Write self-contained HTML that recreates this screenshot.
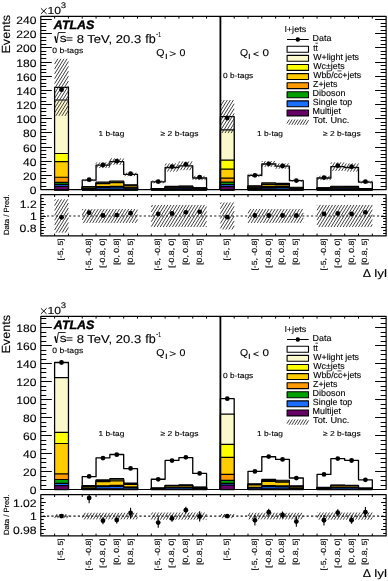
<!DOCTYPE html>
<html><head><meta charset="utf-8"><style>
html,body{margin:0;padding:0;background:#fff;width:388px;height:581px;overflow:hidden}
svg{display:block;will-change:transform;text-rendering:geometricPrecision}
</style></head><body>
<svg width="388" height="581" viewBox="0 0 388 581" font-family="Liberation Sans, sans-serif" stroke-linejoin="round">
<style>text{stroke:#000;stroke-width:0.12px}</style>
<rect width="388" height="581" fill="#fff"/>
<path d="M54.61 189.6L54.61 87.33L68.43 87.33L68.43 189.6Z" fill="#FFFFFF" stroke="#000" stroke-width="1.3"/>
<path d="M54.61 189.6L54.61 100.01L68.43 100.01L68.43 189.6Z" fill="#FBF8CC" stroke="#000" stroke-width="1.2"/>
<path d="M54.61 189.6L54.61 153.52L68.43 153.52L68.43 189.6Z" fill="#FFFF00" stroke="#000" stroke-width="1.2"/>
<path d="M54.61 189.6L54.61 161.6L68.43 161.6L68.43 189.6Z" fill="#FFCC00" stroke="#000" stroke-width="1.2"/>
<path d="M54.61 189.6L54.61 177.27L68.43 177.27L68.43 189.6Z" fill="#FF9A00" stroke="#000" stroke-width="1.2"/>
<path d="M54.61 189.6L54.61 182.37L68.43 182.37L68.43 189.6Z" fill="#00A000" stroke="#000" stroke-width="1.2"/>
<path d="M54.61 189.6L54.61 184.28L68.43 184.28L68.43 189.6Z" fill="#1A6FFF" stroke="#000" stroke-width="1.2"/>
<path d="M54.61 189.6L54.61 186.41L68.43 186.41L68.43 189.6Z" fill="#660066" stroke="#000" stroke-width="1.2"/>
<path d="M82.24 189.6L82.24 180.17L96.05 180.17L96.05 165.22L109.86 165.22L109.86 161.6L123.68 161.6L123.68 174.43L137.49 174.43L137.49 189.6Z" fill="#FFFFFF" stroke="#000" stroke-width="1.3"/>
<path d="M82.24 189.6L82.24 186.7L96.05 186.7L96.05 182.09L109.86 182.09L109.86 180.98L123.68 180.98L123.68 184.93L137.49 184.93L137.49 189.6Z" fill="#FBF8CC" stroke="#000" stroke-width="1.2"/>
<path d="M82.24 189.6L82.24 186.98L96.05 186.98L96.05 182.82L109.86 182.82L109.86 181.82L123.68 181.82L123.68 185.38L137.49 185.38L137.49 189.6Z" fill="#FFFF00" stroke="#000" stroke-width="1.2"/>
<path d="M82.24 189.6L82.24 187.26L96.05 187.26L96.05 183.55L109.86 183.55L109.86 182.66L123.68 182.66L123.68 185.84L137.49 185.84L137.49 189.6Z" fill="#FFCC00" stroke="#000" stroke-width="1.2"/>
<path d="M82.24 189.6L82.24 188.49L96.05 188.49L96.05 186.72L109.86 186.72L109.86 186.3L123.68 186.3L123.68 187.81L137.49 187.81L137.49 189.6Z" fill="#FF9A00" stroke="#000" stroke-width="1.2"/>
<path d="M82.24 189.6L82.24 188.68L96.05 188.68L96.05 187.21L109.86 187.21L109.86 186.86L123.68 186.86L123.68 188.11L137.49 188.11L137.49 189.6Z" fill="#00A000" stroke="#000" stroke-width="1.2"/>
<path d="M82.24 189.6L82.24 188.75L96.05 188.75L96.05 187.41L109.86 187.41L109.86 187.08L123.68 187.08L123.68 188.23L137.49 188.23L137.49 189.6Z" fill="#1A6FFF" stroke="#000" stroke-width="1.2"/>
<path d="M82.24 189.6L82.24 189.41L96.05 189.41L96.05 189.11L109.86 189.11L109.86 189.04L123.68 189.04L123.68 189.3L137.49 189.3L137.49 189.6Z" fill="#660066" stroke="#000" stroke-width="1.2"/>
<path d="M151.3 189.6L151.3 181.87L165.12 181.87L165.12 167.49L178.93 167.49L178.93 165.79L192.74 165.79L192.74 177.98L206.56 177.98L206.56 189.6Z" fill="#FFFFFF" stroke="#000" stroke-width="1.3"/>
<path d="M151.3 189.6L151.3 188.49L165.12 188.49L165.12 186.42L178.93 186.42L178.93 186.17L192.74 186.17L192.74 187.93L206.56 187.93L206.56 189.6Z" fill="#FBF8CC" stroke="#000" stroke-width="1.2"/>
<path d="M151.3 189.6L151.3 188.58L165.12 188.58L165.12 186.68L178.93 186.68L178.93 186.46L192.74 186.46L192.74 188.07L206.56 188.07L206.56 189.6Z" fill="#FFFF00" stroke="#000" stroke-width="1.2"/>
<path d="M151.3 189.6L151.3 188.67L165.12 188.67L165.12 186.95L178.93 186.95L178.93 186.74L192.74 186.74L192.74 188.21L206.56 188.21L206.56 189.6Z" fill="#FFCC00" stroke="#000" stroke-width="1.2"/>
<path d="M151.3 189.6L151.3 189.06L165.12 189.06L165.12 188.05L178.93 188.05L178.93 187.93L192.74 187.93L192.74 188.79L206.56 188.79L206.56 189.6Z" fill="#FF9A00" stroke="#000" stroke-width="1.2"/>
<path d="M151.3 189.6L151.3 189.11L165.12 189.11L165.12 188.18L178.93 188.18L178.93 188.08L192.74 188.08L192.74 188.86L206.56 188.86L206.56 189.6Z" fill="#00A000" stroke="#000" stroke-width="1.2"/>
<path d="M151.3 189.6L151.3 189.14L165.12 189.14L165.12 188.27L178.93 188.27L178.93 188.17L192.74 188.17L192.74 188.9L206.56 188.9L206.56 189.6Z" fill="#1A6FFF" stroke="#000" stroke-width="1.2"/>
<path d="M151.3 189.6L151.3 189.48L165.12 189.48L165.12 189.27L178.93 189.27L178.93 189.24L192.74 189.24L192.74 189.43L206.56 189.43L206.56 189.6Z" fill="#660066" stroke="#000" stroke-width="1.2"/>
<path d="M220.37 189.6L220.37 116.53L234.18 116.53L234.18 189.6Z" fill="#FFFFFF" stroke="#000" stroke-width="1.3"/>
<path d="M220.37 189.6L220.37 129.92L234.18 129.92L234.18 189.6Z" fill="#FBF8CC" stroke="#000" stroke-width="1.2"/>
<path d="M220.37 189.6L220.37 160.19L234.18 160.19L234.18 189.6Z" fill="#FFFF00" stroke="#000" stroke-width="1.2"/>
<path d="M220.37 189.6L220.37 169.19L234.18 169.19L234.18 189.6Z" fill="#FFCC00" stroke="#000" stroke-width="1.2"/>
<path d="M220.37 189.6L220.37 178.12L234.18 178.12L234.18 189.6Z" fill="#FF9A00" stroke="#000" stroke-width="1.2"/>
<path d="M220.37 189.6L220.37 182.09L234.18 182.09L234.18 189.6Z" fill="#00A000" stroke="#000" stroke-width="1.2"/>
<path d="M220.37 189.6L220.37 184.71L234.18 184.71L234.18 189.6Z" fill="#1A6FFF" stroke="#000" stroke-width="1.2"/>
<path d="M220.37 189.6L220.37 186.69L234.18 186.69L234.18 189.6Z" fill="#660066" stroke="#000" stroke-width="1.2"/>
<path d="M248 189.6L248 175.42L261.81 175.42L261.81 164.01L275.62 164.01L275.62 166.07L289.43 166.07L289.43 180.67L303.25 180.67L303.25 189.6Z" fill="#FFFFFF" stroke="#000" stroke-width="1.3"/>
<path d="M248 189.6L248 185.84L261.81 185.84L261.81 182.82L275.62 182.82L275.62 183.36L289.43 183.36L289.43 187.23L303.25 187.23L303.25 189.6Z" fill="#FBF8CC" stroke="#000" stroke-width="1.2"/>
<path d="M248 189.6L248 186.41L261.81 186.41L261.81 183.84L275.62 183.84L275.62 184.31L289.43 184.31L289.43 187.59L303.25 187.59L303.25 189.6Z" fill="#FFFF00" stroke="#000" stroke-width="1.2"/>
<path d="M248 189.6L248 186.76L261.81 186.76L261.81 184.48L275.62 184.48L275.62 184.89L289.43 184.89L289.43 187.81L303.25 187.81L303.25 189.6Z" fill="#FFCC00" stroke="#000" stroke-width="1.2"/>
<path d="M248 189.6L248 187.83L261.81 187.83L261.81 186.4L275.62 186.4L275.62 186.66L289.43 186.66L289.43 188.48L303.25 188.48L303.25 189.6Z" fill="#FF9A00" stroke="#000" stroke-width="1.2"/>
<path d="M248 189.6L248 188.18L261.81 188.18L261.81 187.04L275.62 187.04L275.62 187.25L289.43 187.25L289.43 188.71L303.25 188.71L303.25 189.6Z" fill="#00A000" stroke="#000" stroke-width="1.2"/>
<path d="M248 189.6L248 188.32L261.81 188.32L261.81 187.3L275.62 187.3L275.62 187.48L289.43 187.48L289.43 188.8L303.25 188.8L303.25 189.6Z" fill="#1A6FFF" stroke="#000" stroke-width="1.2"/>
<path d="M248 189.6L248 189.25L261.81 189.25L261.81 188.96L275.62 188.96L275.62 189.01L289.43 189.01L289.43 189.38L303.25 189.38L303.25 189.6Z" fill="#660066" stroke="#000" stroke-width="1.2"/>
<path d="M317.06 189.6L317.06 177.98L330.87 177.98L330.87 166.64L344.69 166.64L344.69 167.49L358.5 167.49L358.5 182.09L372.31 182.09L372.31 189.6Z" fill="#FFFFFF" stroke="#000" stroke-width="1.3"/>
<path d="M317.06 189.6L317.06 187.93L330.87 187.93L330.87 186.29L344.69 186.29L344.69 186.42L358.5 186.42L358.5 188.52L372.31 188.52L372.31 189.6Z" fill="#FBF8CC" stroke="#000" stroke-width="1.2"/>
<path d="M317.06 189.6L317.06 188.07L330.87 188.07L330.87 186.57L344.69 186.57L344.69 186.68L358.5 186.68L358.5 188.61L372.31 188.61L372.31 189.6Z" fill="#FFFF00" stroke="#000" stroke-width="1.2"/>
<path d="M317.06 189.6L317.06 188.21L330.87 188.21L330.87 186.84L344.69 186.84L344.69 186.95L358.5 186.95L358.5 188.7L372.31 188.7L372.31 189.6Z" fill="#FFCC00" stroke="#000" stroke-width="1.2"/>
<path d="M317.06 189.6L317.06 188.79L330.87 188.79L330.87 187.99L344.69 187.99L344.69 188.05L358.5 188.05L358.5 189.07L372.31 189.07L372.31 189.6Z" fill="#FF9A00" stroke="#000" stroke-width="1.2"/>
<path d="M317.06 189.6L317.06 188.86L330.87 188.86L330.87 188.13L344.69 188.13L344.69 188.18L358.5 188.18L358.5 189.12L372.31 189.12L372.31 189.6Z" fill="#00A000" stroke="#000" stroke-width="1.2"/>
<path d="M317.06 189.6L317.06 188.9L330.87 188.9L330.87 188.22L344.69 188.22L344.69 188.27L358.5 188.27L358.5 189.15L372.31 189.15L372.31 189.6Z" fill="#1A6FFF" stroke="#000" stroke-width="1.2"/>
<path d="M317.06 189.6L317.06 189.43L330.87 189.43L330.87 189.26L344.69 189.26L344.69 189.27L358.5 189.27L358.5 189.49L372.31 189.49L372.31 189.6Z" fill="#660066" stroke="#000" stroke-width="1.2"/>
<path d="M54.61 59.19L54.86 58.79M54.61 64.07L57.91 58.79M54.61 68.95L60.96 58.79M54.61 73.83L64.01 58.79M54.61 78.72L67.06 58.79M54.61 83.6L68.43 61.49M54.61 88.48L68.43 66.37M54.61 93.36L68.43 71.25M54.61 98.24L68.43 76.13M54.61 103.12L68.43 81.02M54.61 108L68.43 85.9M54.61 112.88L68.43 90.78M55.8 115.86L68.43 95.66M58.85 115.86L68.43 100.54M61.9 115.86L68.43 105.42M64.95 115.86L68.43 110.3M68 115.86L68.43 115.18" stroke="#2a2a2a" stroke-width="0.9" fill="none"/>
<path d="M82.24 180.94L83.4 179.08M85.08 181.27L86.45 179.08M88.13 181.27L89.5 179.08M91.18 181.27L92.55 179.08M94.23 181.27L95.6 179.08" stroke="#2a2a2a" stroke-width="0.9" fill="none"/>
<path d="M96.05 163.71L96.88 162.39M96.39 168.05L99.93 162.39M99.44 168.05L102.98 162.39M102.49 168.05L106.03 162.39M105.54 168.05L109.08 162.39M108.59 168.05L109.86 166.01" stroke="#2a2a2a" stroke-width="0.9" fill="none"/>
<path d="M109.86 161.13L111.6 158.36M110.59 164.85L114.65 158.36M113.64 164.85L117.7 158.36M116.69 164.85L120.75 158.36M119.74 164.85L123.68 158.55M122.79 164.85L123.68 163.43" stroke="#2a2a2a" stroke-width="0.9" fill="none"/>
<path d="M123.68 173.19L124 172.67M124.85 176.19L127.05 172.67M127.9 176.19L130.1 172.67M130.95 176.19L133.15 172.67M134 176.19L136.2 172.67M137.05 176.19L137.49 175.49" stroke="#2a2a2a" stroke-width="0.9" fill="none"/>
<path d="M151.3 182.67L152.7 180.45M153.96 183.3L155.75 180.45M157.01 183.3L158.8 180.45M160.06 183.3L161.85 180.45M163.11 183.3L164.9 180.45" stroke="#2a2a2a" stroke-width="0.9" fill="none"/>
<path d="M165.12 165.45L166.4 163.4M165.12 170.33L169.45 163.4M167.39 171.58L172.5 163.4M170.44 171.58L175.55 163.4M173.49 171.58L178.6 163.4M176.54 171.58L178.93 167.75" stroke="#2a2a2a" stroke-width="0.9" fill="none"/>
<path d="M178.93 162.87L179.86 161.38M178.93 167.75L182.91 161.38M180.45 170.19L185.96 161.38M183.5 170.19L189.01 161.38M186.55 170.19L192.06 161.38M189.6 170.19L192.74 165.17" stroke="#2a2a2a" stroke-width="0.9" fill="none"/>
<path d="M192.74 179.81L195.23 175.83M195.59 180.13L198.28 175.83M198.64 180.13L201.33 175.83M201.69 180.13L204.38 175.83M204.74 180.13L206.56 177.23" stroke="#2a2a2a" stroke-width="0.9" fill="none"/>
<path d="M220.37 101.43L221.25 100.01M220.37 106.31L224.3 100.01M220.37 111.19L227.35 100.01M220.37 116.07L230.4 100.01M220.37 120.95L233.45 100.01M220.37 125.84L234.18 103.73M220.37 130.72L234.18 108.61M221.97 133.04L234.18 113.49M225.02 133.04L234.18 118.37M228.07 133.04L234.18 123.25M231.12 133.04L234.18 128.14" stroke="#2a2a2a" stroke-width="0.9" fill="none"/>
<path d="M248 174.36L248.36 173.78M249.35 177.07L251.41 173.78M252.4 177.07L254.46 173.78M255.45 177.07L257.51 173.78M258.5 177.07L260.56 173.78M261.55 177.07L261.81 176.66" stroke="#2a2a2a" stroke-width="0.9" fill="none"/>
<path d="M261.81 162.02L262.42 161.05M261.81 166.9L265.47 161.05M264.81 166.98L268.52 161.05M267.86 166.98L271.57 161.05M270.91 166.98L274.62 161.05M273.96 166.98L275.62 164.32" stroke="#2a2a2a" stroke-width="0.9" fill="none"/>
<path d="M275.62 164.32L276.23 163.34M275.87 168.8L279.28 163.34M278.92 168.8L282.33 163.34M281.97 168.8L285.38 163.34M285.02 168.8L288.43 163.34M288.07 168.8L289.43 166.62" stroke="#2a2a2a" stroke-width="0.9" fill="none"/>
<path d="M289.43 181.26L290.45 179.63M292.21 181.71L293.5 179.63M295.26 181.71L296.55 179.63M298.31 181.71L299.6 179.63M301.36 181.71L302.65 179.63" stroke="#2a2a2a" stroke-width="0.9" fill="none"/>
<path d="M317.06 176.1L317.23 175.83M317.59 180.13L320.28 175.83M320.64 180.13L323.33 175.83M323.69 180.13L326.38 175.83M326.74 180.13L329.43 175.83M329.79 180.13L330.87 178.4" stroke="#2a2a2a" stroke-width="0.9" fill="none"/>
<path d="M330.87 163.76L331.73 162.39M330.87 168.64L334.78 162.39M332.52 170.88L337.83 162.39M335.57 170.88L340.88 162.39M338.62 170.88L343.93 162.39M341.67 170.88L344.69 166.06" stroke="#2a2a2a" stroke-width="0.9" fill="none"/>
<path d="M344.69 166.06L346.35 163.4M344.69 170.94L349.4 163.4M347.34 171.58L352.45 163.4M350.39 171.58L355.5 163.4M353.44 171.58L358.5 163.48M356.49 171.58L358.5 168.36" stroke="#2a2a2a" stroke-width="0.9" fill="none"/>
<path d="M358.5 183L359.94 180.7M361.25 183.48L362.99 180.7M364.3 183.48L366.04 180.7M367.35 183.48L369.09 180.7M370.4 183.48L372.14 180.7" stroke="#2a2a2a" stroke-width="0.9" fill="none"/>
<circle cx="61.52" cy="89.68" r="2.4"/>
<circle cx="89.15" cy="179.66" r="2.4"/>
<circle cx="102.96" cy="165.02" r="2.4"/>
<circle cx="116.77" cy="161.18" r="2.4"/>
<circle cx="130.58" cy="173.72" r="2.4"/>
<circle cx="158.21" cy="181.6" r="2.4"/>
<circle cx="172.02" cy="166.56" r="2.4"/>
<circle cx="185.84" cy="164.31" r="2.4"/>
<circle cx="199.65" cy="177.16" r="2.4"/>
<circle cx="227.28" cy="117.99" r="2.4"/>
<circle cx="254.9" cy="175.31" r="2.4"/>
<circle cx="268.71" cy="163.81" r="2.4"/>
<circle cx="282.53" cy="165.88" r="2.4"/>
<circle cx="296.34" cy="180.6" r="2.4"/>
<circle cx="323.97" cy="177.57" r="2.4"/>
<circle cx="337.78" cy="165.67" r="2.4"/>
<circle cx="351.59" cy="166.71" r="2.4"/>
<circle cx="365.41" cy="181.62" r="2.4"/>
<line x1="220.4" y1="16.3" x2="220.4" y2="189.6" stroke="#000" stroke-width="1.8"/>
<rect x="40.8" y="16.3" width="345.32" height="173.3" fill="none" stroke="#000" stroke-width="1.2"/>
<path d="M40.8 189.5h11M386.12 189.5h-11M40.8 186.5h5.5M386.12 186.5h-5.5M40.8 182.5h5.5M386.12 182.5h-5.5M40.8 178.5h5.5M386.12 178.5h-5.5M40.8 175.5h11M386.12 175.5h-11M40.8 171.5h5.5M386.12 171.5h-5.5M40.8 168.5h5.5M386.12 168.5h-5.5M40.8 164.5h5.5M386.12 164.5h-5.5M40.8 161.5h11M386.12 161.5h-11M40.8 157.5h5.5M386.12 157.5h-5.5M40.8 154.5h5.5M386.12 154.5h-5.5M40.8 150.5h5.5M386.12 150.5h-5.5M40.8 147.5h11M386.12 147.5h-11M40.8 143.5h5.5M386.12 143.5h-5.5M40.8 139.5h5.5M386.12 139.5h-5.5M40.8 136.5h5.5M386.12 136.5h-5.5M40.8 132.5h11M386.12 132.5h-11M40.8 129.5h5.5M386.12 129.5h-5.5M40.8 125.5h5.5M386.12 125.5h-5.5M40.8 122.5h5.5M386.12 122.5h-5.5M40.8 118.5h11M386.12 118.5h-11M40.8 115.5h5.5M386.12 115.5h-5.5M40.8 111.5h5.5M386.12 111.5h-5.5M40.8 108.5h5.5M386.12 108.5h-5.5M40.8 104.5h11M386.12 104.5h-11M40.8 101.5h5.5M386.12 101.5h-5.5M40.8 97.5h5.5M386.12 97.5h-5.5M40.8 93.5h5.5M386.12 93.5h-5.5M40.8 90.5h11M386.12 90.5h-11M40.8 86.5h5.5M386.12 86.5h-5.5M40.8 83.5h5.5M386.12 83.5h-5.5M40.8 79.5h5.5M386.12 79.5h-5.5M40.8 76.5h11M386.12 76.5h-11M40.8 72.5h5.5M386.12 72.5h-5.5M40.8 69.5h5.5M386.12 69.5h-5.5M40.8 65.5h5.5M386.12 65.5h-5.5M40.8 62.5h11M386.12 62.5h-11M40.8 58.5h5.5M386.12 58.5h-5.5M40.8 54.5h5.5M386.12 54.5h-5.5M40.8 51.5h5.5M386.12 51.5h-5.5M40.8 47.5h11M386.12 47.5h-11M40.8 44.5h5.5M386.12 44.5h-5.5M40.8 40.5h5.5M386.12 40.5h-5.5M40.8 37.5h5.5M386.12 37.5h-5.5M40.8 33.5h11M386.12 33.5h-11M40.8 30.5h5.5M386.12 30.5h-5.5M40.8 26.5h5.5M386.12 26.5h-5.5M40.8 23.5h5.5M386.12 23.5h-5.5M40.8 19.5h11M386.12 19.5h-11M54.61 16.3v2.3M68.43 16.3v2.3M82.24 16.3v2.3M96.05 16.3v2.3M109.86 16.3v2.3M123.68 16.3v2.3M137.49 16.3v2.3M151.3 16.3v2.3M165.12 16.3v2.3M178.93 16.3v2.3M192.74 16.3v2.3M206.56 16.3v2.3M220.37 16.3v2.3M234.18 16.3v2.3M248 16.3v2.3M261.81 16.3v2.3M275.62 16.3v2.3M289.43 16.3v2.3M303.25 16.3v2.3M317.06 16.3v2.3M330.87 16.3v2.3M344.69 16.3v2.3M358.5 16.3v2.3M372.31 16.3v2.3" stroke="#000" stroke-width="1" fill="none"/>
<text transform="translate(29.71,194.15) scale(1.120,1)" font-size="10.80">0</text>
<text transform="translate(23.06,179.97) scale(1.120,1)" font-size="10.80">20</text>
<text transform="translate(23.06,165.8) scale(1.120,1)" font-size="10.80">40</text>
<text transform="translate(23.06,151.62) scale(1.120,1)" font-size="10.80">60</text>
<text transform="translate(23.06,137.45) scale(1.120,1)" font-size="10.80">80</text>
<text transform="translate(16.28,123.27) scale(1.120,1)" font-size="10.80">100</text>
<text transform="translate(16.28,109.1) scale(1.120,1)" font-size="10.80">120</text>
<text transform="translate(16.28,94.92) scale(1.120,1)" font-size="10.80">140</text>
<text transform="translate(16.28,80.75) scale(1.120,1)" font-size="10.80">160</text>
<text transform="translate(16.28,66.57) scale(1.120,1)" font-size="10.80">180</text>
<text transform="translate(16.28,52.4) scale(1.120,1)" font-size="10.80">200</text>
<text transform="translate(16.28,38.22) scale(1.120,1)" font-size="10.80">220</text>
<text transform="translate(16.28,24.05) scale(1.120,1)" font-size="10.80">240</text>
<clipPath id="rc0"><rect x="40.8" y="194.7" width="345.32" height="41.2"/></clipPath>
<g clip-path="url(#rc0)">
<path d="M54.61 200.74L55.49 199.33M54.61 205.62L58.54 199.33M54.61 210.5L61.59 199.33M54.61 215.38L64.64 199.33M54.61 220.27L67.69 199.33M54.61 225.15L68.43 203.04M54.61 230.03L68.43 207.92M56.01 232.67L68.43 212.8M59.06 232.67L68.43 217.68M62.11 232.67L68.43 222.56M65.16 232.67L68.43 227.45M68.21 232.67L68.43 232.33" stroke="#2a2a2a" stroke-width="0.9" fill="none"/>
<path d="M82.24 210.22L82.96 209.07M82.24 215.1L86.01 209.07M82.24 219.98L89.06 209.07M83.45 222.93L92.11 209.07M86.5 222.93L95.16 209.07M89.55 222.93L96.05 212.52M92.6 222.93L96.05 217.4M95.65 222.93L96.05 222.28" stroke="#2a2a2a" stroke-width="0.9" fill="none"/>
<path d="M96.05 212.52L98.21 209.07M96.05 217.4L101.26 209.07M96.05 222.28L104.31 209.07M98.7 222.93L107.36 209.07M101.75 222.93L109.86 209.94M104.8 222.93L109.86 214.82M107.85 222.93L109.86 219.7" stroke="#2a2a2a" stroke-width="0.9" fill="none"/>
<path d="M109.86 209.94L110.41 209.07M109.86 214.82L113.46 209.07M109.86 219.7L116.51 209.07M110.9 222.93L119.56 209.07M113.95 222.93L122.61 209.07M117 222.93L123.68 212.24M120.05 222.93L123.68 217.12M123.1 222.93L123.68 222" stroke="#2a2a2a" stroke-width="0.9" fill="none"/>
<path d="M123.68 212.24L125.66 209.07M123.68 217.12L128.71 209.07M123.68 222L131.76 209.07M126.15 222.93L134.81 209.07M129.2 222.93L137.49 209.66M132.25 222.93L137.49 214.54M135.3 222.93L137.49 219.42" stroke="#2a2a2a" stroke-width="0.9" fill="none"/>
<path d="M151.3 207.08L152.64 204.95M151.3 211.96L155.69 204.95M151.3 216.84L158.74 204.95M151.3 221.72L161.79 204.95M151.3 226.6L164.84 204.95M154.07 227.05L165.12 209.38M157.12 227.05L165.12 214.26M160.17 227.05L165.12 219.14M163.22 227.05L165.12 224.02" stroke="#2a2a2a" stroke-width="0.9" fill="none"/>
<path d="M165.12 209.38L167.89 204.95M165.12 214.26L170.94 204.95M165.12 219.14L173.99 204.95M165.12 224.02L177.04 204.95M166.27 227.05L178.93 206.8M169.32 227.05L178.93 211.68M172.37 227.05L178.93 216.56M175.42 227.05L178.93 221.44M178.47 227.05L178.93 226.32" stroke="#2a2a2a" stroke-width="0.9" fill="none"/>
<path d="M178.93 206.8L180.09 204.95M178.93 211.68L183.14 204.95M178.93 216.56L186.19 204.95M178.93 221.44L189.24 204.95M178.93 226.32L192.29 204.95M181.52 227.05L192.74 209.09M184.57 227.05L192.74 213.98M187.62 227.05L192.74 218.86M190.67 227.05L192.74 223.74" stroke="#2a2a2a" stroke-width="0.9" fill="none"/>
<path d="M192.74 209.09L195.34 204.95M192.74 213.98L198.39 204.95M192.74 218.86L201.44 204.95M192.74 223.74L204.49 204.95M193.72 227.05L206.56 206.51M196.77 227.05L206.56 211.39M199.82 227.05L206.56 216.28M202.87 227.05L206.56 221.16M205.92 227.05L206.56 226.04" stroke="#2a2a2a" stroke-width="0.9" fill="none"/>
<path d="M220.37 203.93L221.27 202.5M220.37 208.81L224.32 202.5M220.37 213.69L227.37 202.5M220.37 218.58L230.42 202.5M220.37 223.46L233.47 202.5M220.37 228.34L234.18 206.23M222.69 229.5L234.18 211.11M225.74 229.5L234.18 215.99M228.79 229.5L234.18 220.87M231.84 229.5L234.18 225.76" stroke="#2a2a2a" stroke-width="0.9" fill="none"/>
<path d="M248 213.41L250.71 209.07M248 218.29L253.76 209.07M248.15 222.93L256.81 209.07M251.2 222.93L259.86 209.07M254.25 222.93L261.81 210.83M257.3 222.93L261.81 215.71M260.35 222.93L261.81 220.59" stroke="#2a2a2a" stroke-width="0.9" fill="none"/>
<path d="M261.81 210.83L262.91 209.07M261.81 215.71L265.96 209.07M261.81 220.59L269.01 209.07M263.4 222.93L272.06 209.07M266.45 222.93L275.11 209.07M269.5 222.93L275.62 213.13M272.55 222.93L275.62 218.01" stroke="#2a2a2a" stroke-width="0.9" fill="none"/>
<path d="M275.62 213.13L278.16 209.07M275.62 218.01L281.21 209.07M275.62 222.89L284.26 209.07M278.65 222.93L287.31 209.07M281.7 222.93L289.43 210.55M284.75 222.93L289.43 215.43M287.8 222.93L289.43 220.31" stroke="#2a2a2a" stroke-width="0.9" fill="none"/>
<path d="M289.43 210.55L290.36 209.07M289.43 215.43L293.41 209.07M289.43 220.31L296.46 209.07M290.85 222.93L299.51 209.07M293.9 222.93L302.56 209.07M296.95 222.93L303.25 212.85M300 222.93L303.25 217.73M303.05 222.93L303.25 222.61" stroke="#2a2a2a" stroke-width="0.9" fill="none"/>
<path d="M317.06 205.39L317.34 204.95M317.06 210.27L320.39 204.95M317.06 215.15L323.44 204.95M317.06 220.03L326.49 204.95M317.06 224.91L329.54 204.95M318.77 227.05L330.87 207.69M321.82 227.05L330.87 212.57M324.87 227.05L330.87 217.45M327.92 227.05L330.87 222.33" stroke="#2a2a2a" stroke-width="0.9" fill="none"/>
<path d="M330.87 207.69L332.59 204.95M330.87 212.57L335.64 204.95M330.87 217.45L338.69 204.95M330.87 222.33L341.74 204.95M330.97 227.05L344.69 205.11M334.02 227.05L344.69 209.99M337.07 227.05L344.69 214.87M340.12 227.05L344.69 219.75M343.17 227.05L344.69 224.63" stroke="#2a2a2a" stroke-width="0.9" fill="none"/>
<path d="M344.69 209.99L347.84 204.95M344.69 214.87L350.89 204.95M344.69 219.75L353.94 204.95M344.69 224.63L356.99 204.95M346.22 227.05L358.5 207.4M349.27 227.05L358.5 212.29M352.32 227.05L358.5 217.17M355.37 227.05L358.5 222.05" stroke="#2a2a2a" stroke-width="0.9" fill="none"/>
<path d="M358.5 207.4L360.04 204.95M358.5 212.29L363.09 204.95M358.5 217.17L366.14 204.95M358.5 222.05L369.19 204.95M358.5 226.93L372.24 204.95M361.47 227.05L372.31 209.7M364.52 227.05L372.31 214.59M367.57 227.05L372.31 219.47M370.62 227.05L372.31 224.35" stroke="#2a2a2a" stroke-width="0.9" fill="none"/>
<line x1="40.8" y1="216" x2="386.12" y2="216" stroke="#1a1a1a" stroke-width="1.05" stroke-dasharray="2.2 2.2" stroke-dashoffset="2.6"/>
<circle cx="61.52" cy="217.37" r="2.4"/>
<circle cx="89.15" cy="212.77" r="2.4"/>
<circle cx="102.96" cy="215.52" r="2.4"/>
<circle cx="116.77" cy="215.1" r="2.4"/>
<circle cx="130.58" cy="213.19" r="2.4"/>
<circle cx="158.21" cy="213.91" r="2.4"/>
<circle cx="172.02" cy="213.49" r="2.4"/>
<circle cx="185.84" cy="212.3" r="2.4"/>
<circle cx="199.65" cy="211.82" r="2.4"/>
<circle cx="227.28" cy="217.19" r="2.4"/>
<circle cx="254.9" cy="215.52" r="2.4"/>
<circle cx="268.71" cy="215.52" r="2.4"/>
<circle cx="282.53" cy="215.52" r="2.4"/>
<circle cx="296.34" cy="215.52" r="2.4"/>
<circle cx="323.97" cy="213.91" r="2.4"/>
<circle cx="337.78" cy="213.49" r="2.4"/>
<circle cx="351.59" cy="213.91" r="2.4"/>
<circle cx="365.41" cy="212.3" r="2.4"/>
</g>
<rect x="40.8" y="194.7" width="345.32" height="41.2" fill="none" stroke="#000" stroke-width="1.2"/>
<path d="M40.8 233.5h3M386.12 233.5h-3M40.8 230.5h3M386.12 230.5h-3M40.8 227.5h5M386.12 227.5h-5M40.8 224.5h3M386.12 224.5h-3M40.8 221.5h3M386.12 221.5h-3M40.8 218.5h3M386.12 218.5h-3M40.8 216.5h5M386.12 216.5h-5M40.8 213.5h3M386.12 213.5h-3M40.8 210.5h3M386.12 210.5h-3M40.8 207.5h3M386.12 207.5h-3M40.8 204.5h5M386.12 204.5h-5M40.8 201.5h3M386.12 201.5h-3M40.8 198.5h3M386.12 198.5h-3M54.61 194.7v2.3M54.61 235.9v-2.3M68.43 194.7v2.3M68.43 235.9v-2.3M82.24 194.7v2.3M82.24 235.9v-2.3M96.05 194.7v2.3M96.05 235.9v-2.3M109.86 194.7v2.3M109.86 235.9v-2.3M123.68 194.7v2.3M123.68 235.9v-2.3M137.49 194.7v2.3M137.49 235.9v-2.3M151.3 194.7v2.3M151.3 235.9v-2.3M165.12 194.7v2.3M165.12 235.9v-2.3M178.93 194.7v2.3M178.93 235.9v-2.3M192.74 194.7v2.3M192.74 235.9v-2.3M206.56 194.7v2.3M206.56 235.9v-2.3M220.37 194.7v2.3M220.37 235.9v-2.3M234.18 194.7v2.3M234.18 235.9v-2.3M248 194.7v2.3M248 235.9v-2.3M261.81 194.7v2.3M261.81 235.9v-2.3M275.62 194.7v2.3M275.62 235.9v-2.3M289.43 194.7v2.3M289.43 235.9v-2.3M303.25 194.7v2.3M303.25 235.9v-2.3M317.06 194.7v2.3M317.06 235.9v-2.3M330.87 194.7v2.3M330.87 235.9v-2.3M344.69 194.7v2.3M344.69 235.9v-2.3M358.5 194.7v2.3M358.5 235.9v-2.3M372.31 194.7v2.3M372.31 235.9v-2.3" stroke="#000" stroke-width="1" fill="none"/>
<text transform="translate(19.75,208.3) scale(1.130,1)" font-size="10.80">1.2</text>
<text transform="translate(29.88,220.25) scale(1.130,1)" font-size="10.80">1</text>
<text transform="translate(19.62,232.2) scale(1.130,1)" font-size="10.80">0.8</text>
<text transform="translate(63.46,260.5) rotate(-90) scale(1.170,1)" font-size="7.45">[-5, 5]</text>
<text transform="translate(91.08,270.62) rotate(-90) scale(1.170,1)" font-size="7.45">[-5, -0.8]</text>
<text transform="translate(104.9,267.74) rotate(-90) scale(1.170,1)" font-size="7.45">[-0.8, 0]</text>
<text transform="translate(118.71,264.86) rotate(-90) scale(1.170,1)" font-size="7.45">[0, 0.8]</text>
<text transform="translate(132.52,264.86) rotate(-90) scale(1.170,1)" font-size="7.45">[0.8, 5]</text>
<text transform="translate(160.15,270.62) rotate(-90) scale(1.170,1)" font-size="7.45">[-5, -0.8]</text>
<text transform="translate(173.96,267.74) rotate(-90) scale(1.170,1)" font-size="7.45">[-0.8, 0]</text>
<text transform="translate(187.77,264.86) rotate(-90) scale(1.170,1)" font-size="7.45">[0, 0.8]</text>
<text transform="translate(201.59,264.86) rotate(-90) scale(1.170,1)" font-size="7.45">[0.8, 5]</text>
<text transform="translate(229.21,260.5) rotate(-90) scale(1.170,1)" font-size="7.45">[-5, 5]</text>
<text transform="translate(256.84,270.62) rotate(-90) scale(1.170,1)" font-size="7.45">[-5, -0.8]</text>
<text transform="translate(270.65,267.74) rotate(-90) scale(1.170,1)" font-size="7.45">[-0.8, 0]</text>
<text transform="translate(284.46,264.86) rotate(-90) scale(1.170,1)" font-size="7.45">[0, 0.8]</text>
<text transform="translate(298.28,264.86) rotate(-90) scale(1.170,1)" font-size="7.45">[0.8, 5]</text>
<text transform="translate(325.9,270.62) rotate(-90) scale(1.170,1)" font-size="7.45">[-5, -0.8]</text>
<text transform="translate(339.72,267.74) rotate(-90) scale(1.170,1)" font-size="7.45">[-0.8, 0]</text>
<text transform="translate(353.53,264.86) rotate(-90) scale(1.170,1)" font-size="7.45">[0, 0.8]</text>
<text transform="translate(367.34,264.86) rotate(-90) scale(1.170,1)" font-size="7.45">[0.8, 5]</text>
<text transform="translate(10.48,53.61) rotate(-90) scale(1.067,1)" font-size="11.86">Events</text>
<text transform="translate(9.23,235.11) rotate(-90) scale(1.021,1)" font-size="7.50">Data / Pred.</text>
<text transform="translate(362.83,276.7) scale(1.116,1)" font-size="11.16">Δ</text>
<text transform="translate(374.25,276.82) scale(1.252,1)" font-size="10.85">lyl</text>
<path d="M40.9 8.3L46.6 13.9M40.9 13.9L46.6 8.3" stroke="#000" stroke-width="0.95" fill="none"/>
<text transform="translate(47.48,14) scale(1.184,1)" font-size="10.28">10</text>
<text transform="translate(60.82,8.42) scale(1.182,1)" font-size="8.10">3</text>
<text transform="translate(53.82,28.88) scale(1.016,1)" font-size="12.25" font-weight="bold" style="stroke-width:0.4px" font-style="italic">ATLAS</text>
<path d="M54.9 36.3L56.6 42.9" fill="none" stroke="#000" stroke-width="1.5"/>
<path d="M56.6 42.9L58.4 32.5H65.6" fill="none" stroke="#000" stroke-width="0.85"/>
<text transform="translate(59.79,42.39) scale(1.198,1)" font-size="11.45">s</text>
<text transform="translate(65.91,42.39) scale(1.267,1)" font-size="9.38">=</text>
<text transform="translate(76.68,42.51) scale(1.140,1)" font-size="11.45">8 TeV, 20.3</text>
<text transform="translate(145.37,42.6) scale(1.019,1)" font-size="12.33">fb</text>
<path d="M156.3 34.4H157.9" stroke="#000" stroke-width="0.8"/>
<text transform="translate(158.29,36.9) scale(0.720,1)" font-size="7.10">1</text>
<text transform="translate(52.26,52.69) scale(1.117,1)" font-size="7.66">0 b-tags</text>
<text transform="translate(223.07,77.64) scale(1.123,1)" font-size="7.45">0 b-tags</text>
<text transform="translate(98.43,136.08) scale(1.154,1)" font-size="7.23">1 b-tag</text>
<text transform="translate(257.03,136.18) scale(1.154,1)" font-size="7.23">1 b-tag</text>
<text transform="translate(160.54,136.08) scale(1.183,1)" font-size="7.23">≥ 2 b-tags</text>
<text transform="translate(323.05,136.18) scale(1.174,1)" font-size="7.23">≥ 2 b-tags</text>
<text transform="translate(156.37,56.1) scale(1.059,1)" font-size="10.00">Q</text>
<text transform="translate(165.3,58.87) scale(1.412,1)" font-size="7.08">l</text>
<text transform="translate(169.31,56.88) scale(1.208,1)" font-size="9.80">&gt;</text>
<text transform="translate(179.47,56) scale(1.078,1)" font-size="9.86">0</text>
<text transform="translate(239.98,56.1) scale(1.044,1)" font-size="10.00">Q</text>
<text transform="translate(248.2,58.87) scale(1.412,1)" font-size="7.08">l</text>
<text transform="translate(253.08,56.85) scale(1.107,1)" font-size="9.40">&lt;</text>
<text transform="translate(262.43,56) scale(1.183,1)" font-size="9.86">0</text>
<text transform="translate(284.76,32.26) scale(1.098,1)" font-size="8.30">l+jets</text>
<line x1="287" y1="39.5" x2="308.7" y2="39.5" stroke="#000" stroke-width="1"/>
<circle cx="297.8" cy="39.5" r="2.2"/>
<text transform="translate(312.59,41.4) scale(1.013,1)" font-size="8.80">Data</text>
<rect x="287.1" y="46.3" width="21.4" height="5.9" fill="#FFFFFF" stroke="#000" stroke-width="1.1"/>
<text transform="translate(313.14,50.5) scale(0.922,1)" font-size="8.80">tt</text>
<path d="M315.4 43.2H318.0" stroke="#000" stroke-width="0.7"/>
<rect x="287.1" y="55.4" width="21.4" height="5.9" fill="#FBF8CC" stroke="#000" stroke-width="1.1"/>
<text transform="translate(313.21,59.6) scale(1.002,1)" font-size="8.80">W+light jets</text>
<rect x="287.1" y="64.5" width="21.4" height="5.9" fill="#FFFF00" stroke="#000" stroke-width="1.1"/>
<text transform="translate(313.21,68.7) scale(1.006,1)" font-size="8.80">Wc±jets</text>
<rect x="287.1" y="73.6" width="21.4" height="5.9" fill="#FFCC00" stroke="#000" stroke-width="1.1"/>
<text transform="translate(313.21,77.8) scale(0.994,1)" font-size="8.80">Wbb/cc+jets</text>
<path d="M326.6 70.9H330.6M337.4 70.9H341.5" stroke="#000" stroke-width="0.7"/>
<rect x="287.1" y="82.7" width="21.4" height="5.9" fill="#FF9A00" stroke="#000" stroke-width="1.1"/>
<text transform="translate(313.03,86.9) scale(1.005,1)" font-size="8.80">Z+jets</text>
<rect x="287.1" y="91.8" width="21.4" height="5.9" fill="#00A000" stroke="#000" stroke-width="1.1"/>
<text transform="translate(312.58,96) scale(1.020,1)" font-size="8.80">Diboson</text>
<rect x="287.1" y="100.9" width="21.4" height="5.9" fill="#1A6FFF" stroke="#000" stroke-width="1.1"/>
<text transform="translate(312.86,105.1) scale(1.006,1)" font-size="8.80">Single top</text>
<rect x="287.1" y="110" width="21.4" height="5.9" fill="#660066" stroke="#000" stroke-width="1.1"/>
<text transform="translate(312.58,114.2) scale(1.018,1)" font-size="8.80">Multijet</text>
<path d="M287 123.39L289.43 119.5M288.92 124.8L292.23 119.5M291.72 124.8L295.03 119.5M294.52 124.8L297.83 119.5M297.32 124.8L300.63 119.5M300.12 124.8L303.43 119.5M302.92 124.8L306.23 119.5M305.72 124.8L308.6 120.19" stroke="#2a2a2a" stroke-width="0.9" fill="none"/>
<text transform="translate(313.12,123.3) scale(1.041,1)" font-size="8.80">Tot. Unc.</text>
<path d="M54.61 489.5L54.61 362.51L68.43 362.51L68.43 489.5Z" fill="#FFFFFF" stroke="#000" stroke-width="1.3"/>
<path d="M54.61 489.5L54.61 377.63L68.43 377.63L68.43 489.5Z" fill="#FBF8CC" stroke="#000" stroke-width="1.2"/>
<path d="M54.61 489.5L54.61 432.44L68.43 432.44L68.43 489.5Z" fill="#FFFF00" stroke="#000" stroke-width="1.2"/>
<path d="M54.61 489.5L54.61 443.51L68.43 443.51L68.43 489.5Z" fill="#FFCC00" stroke="#000" stroke-width="1.2"/>
<path d="M54.61 489.5L54.61 473.93L68.43 473.93L68.43 489.5Z" fill="#FF9A00" stroke="#000" stroke-width="1.2"/>
<path d="M54.61 489.5L54.61 479.51L68.43 479.51L68.43 489.5Z" fill="#00A000" stroke="#000" stroke-width="1.2"/>
<path d="M54.61 489.5L54.61 483.38L68.43 483.38L68.43 489.5Z" fill="#1A6FFF" stroke="#000" stroke-width="1.2"/>
<path d="M54.61 489.5L54.61 485.72L68.43 485.72L68.43 489.5Z" fill="#660066" stroke="#000" stroke-width="1.2"/>
<path d="M82.24 489.5L82.24 476.72L96.05 476.72L96.05 457.82L109.86 457.82L109.86 454.49L123.68 454.49L123.68 468.53L137.49 468.53L137.49 489.5Z" fill="#FFFFFF" stroke="#000" stroke-width="1.3"/>
<path d="M82.24 489.5L82.24 485.56L96.05 485.56L96.05 479.74L109.86 479.74L109.86 478.72L123.68 478.72L123.68 483.04L137.49 483.04L137.49 489.5Z" fill="#FBF8CC" stroke="#000" stroke-width="1.2"/>
<path d="M82.24 489.5L82.24 485.95L96.05 485.95L96.05 480.69L109.86 480.69L109.86 479.77L123.68 479.77L123.68 483.67L137.49 483.67L137.49 489.5Z" fill="#FFFF00" stroke="#000" stroke-width="1.2"/>
<path d="M82.24 489.5L82.24 486.33L96.05 486.33L96.05 481.64L109.86 481.64L109.86 480.82L123.68 480.82L123.68 484.3L137.49 484.3L137.49 489.5Z" fill="#FFCC00" stroke="#000" stroke-width="1.2"/>
<path d="M82.24 489.5L82.24 487.99L96.05 487.99L96.05 485.76L109.86 485.76L109.86 485.37L123.68 485.37L123.68 487.03L137.49 487.03L137.49 489.5Z" fill="#FF9A00" stroke="#000" stroke-width="1.2"/>
<path d="M82.24 489.5L82.24 488.25L96.05 488.25L96.05 486.4L109.86 486.4L109.86 486.07L123.68 486.07L123.68 487.44L137.49 487.44L137.49 489.5Z" fill="#00A000" stroke="#000" stroke-width="1.2"/>
<path d="M82.24 489.5L82.24 488.35L96.05 488.35L96.05 486.65L109.86 486.65L109.86 486.35L123.68 486.35L123.68 487.61L137.49 487.61L137.49 489.5Z" fill="#1A6FFF" stroke="#000" stroke-width="1.2"/>
<path d="M82.24 489.5L82.24 489.24L96.05 489.24L96.05 488.87L109.86 488.87L109.86 488.8L123.68 488.8L123.68 489.08L137.49 489.08L137.49 489.5Z" fill="#660066" stroke="#000" stroke-width="1.2"/>
<path d="M151.3 489.5L151.3 479.24L165.12 479.24L165.12 460.43L178.93 460.43L178.93 457.64L192.74 457.64L192.74 473.39L206.56 473.39L206.56 489.5Z" fill="#FFFFFF" stroke="#000" stroke-width="1.3"/>
<path d="M151.3 489.5L151.3 488.02L165.12 488.02L165.12 485.31L178.93 485.31L178.93 484.91L192.74 484.91L192.74 487.18L206.56 487.18L206.56 489.5Z" fill="#FBF8CC" stroke="#000" stroke-width="1.2"/>
<path d="M151.3 489.5L151.3 488.15L165.12 488.15L165.12 485.66L178.93 485.66L178.93 485.29L192.74 485.29L192.74 487.37L206.56 487.37L206.56 489.5Z" fill="#FFFF00" stroke="#000" stroke-width="1.2"/>
<path d="M151.3 489.5L151.3 488.27L165.12 488.27L165.12 486.01L178.93 486.01L178.93 485.68L192.74 485.68L192.74 487.57L206.56 487.57L206.56 489.5Z" fill="#FFCC00" stroke="#000" stroke-width="1.2"/>
<path d="M151.3 489.5L151.3 488.78L165.12 488.78L165.12 487.47L178.93 487.47L178.93 487.27L192.74 487.27L192.74 488.37L206.56 488.37L206.56 489.5Z" fill="#FF9A00" stroke="#000" stroke-width="1.2"/>
<path d="M151.3 489.5L151.3 488.84L165.12 488.84L165.12 487.64L178.93 487.64L178.93 487.46L192.74 487.46L192.74 488.47L206.56 488.47L206.56 489.5Z" fill="#00A000" stroke="#000" stroke-width="1.2"/>
<path d="M151.3 489.5L151.3 488.88L165.12 488.88L165.12 487.76L178.93 487.76L178.93 487.59L192.74 487.59L192.74 488.53L206.56 488.53L206.56 489.5Z" fill="#1A6FFF" stroke="#000" stroke-width="1.2"/>
<path d="M151.3 489.5L151.3 489.35L165.12 489.35L165.12 489.06L178.93 489.06L178.93 489.02L192.74 489.02L192.74 489.26L206.56 489.26L206.56 489.5Z" fill="#660066" stroke="#000" stroke-width="1.2"/>
<path d="M220.37 489.5L220.37 398.69L234.18 398.69L234.18 489.5Z" fill="#FFFFFF" stroke="#000" stroke-width="1.3"/>
<path d="M220.37 489.5L220.37 414.17L234.18 414.17L234.18 489.5Z" fill="#FBF8CC" stroke="#000" stroke-width="1.2"/>
<path d="M220.37 489.5L220.37 444.32L234.18 444.32L234.18 489.5Z" fill="#FFFF00" stroke="#000" stroke-width="1.2"/>
<path d="M220.37 489.5L220.37 457.46L234.18 457.46L234.18 489.5Z" fill="#FFCC00" stroke="#000" stroke-width="1.2"/>
<path d="M220.37 489.5L220.37 474.29L234.18 474.29L234.18 489.5Z" fill="#FF9A00" stroke="#000" stroke-width="1.2"/>
<path d="M220.37 489.5L220.37 480.32L234.18 480.32L234.18 489.5Z" fill="#00A000" stroke="#000" stroke-width="1.2"/>
<path d="M220.37 489.5L220.37 483.38L234.18 483.38L234.18 489.5Z" fill="#1A6FFF" stroke="#000" stroke-width="1.2"/>
<path d="M220.37 489.5L220.37 485.18L234.18 485.18L234.18 489.5Z" fill="#660066" stroke="#000" stroke-width="1.2"/>
<path d="M248 489.5L248 471.32L261.81 471.32L261.81 456.74L275.62 456.74L275.62 459.44L289.43 459.44L289.43 477.98L303.25 477.98L303.25 489.5Z" fill="#FFFFFF" stroke="#000" stroke-width="1.3"/>
<path d="M248 489.5L248 483.9L261.81 483.9L261.81 479.41L275.62 479.41L275.62 480.24L289.43 480.24L289.43 485.95L303.25 485.95L303.25 489.5Z" fill="#FBF8CC" stroke="#000" stroke-width="1.2"/>
<path d="M248 489.5L248 484.45L261.81 484.45L261.81 480.39L275.62 480.39L275.62 481.14L289.43 481.14L289.43 486.3L303.25 486.3L303.25 489.5Z" fill="#FFFF00" stroke="#000" stroke-width="1.2"/>
<path d="M248 489.5L248 484.99L261.81 484.99L261.81 481.38L275.62 481.38L275.62 482.05L289.43 482.05L289.43 486.64L303.25 486.64L303.25 489.5Z" fill="#FFCC00" stroke="#000" stroke-width="1.2"/>
<path d="M248 489.5L248 487.35L261.81 487.35L261.81 485.63L275.62 485.63L275.62 485.95L289.43 485.95L289.43 488.14L303.25 488.14L303.25 489.5Z" fill="#FF9A00" stroke="#000" stroke-width="1.2"/>
<path d="M248 489.5L248 487.72L261.81 487.72L261.81 486.29L275.62 486.29L275.62 486.55L289.43 486.55L289.43 488.37L303.25 488.37L303.25 489.5Z" fill="#00A000" stroke="#000" stroke-width="1.2"/>
<path d="M248 489.5L248 487.86L261.81 487.86L261.81 486.55L275.62 486.55L275.62 486.79L289.43 486.79L289.43 488.46L303.25 488.46L303.25 489.5Z" fill="#1A6FFF" stroke="#000" stroke-width="1.2"/>
<path d="M248 489.5L248 489.14L261.81 489.14L261.81 488.84L275.62 488.84L275.62 488.9L289.43 488.9L289.43 489.27L303.25 489.27L303.25 489.5Z" fill="#660066" stroke="#000" stroke-width="1.2"/>
<path d="M317.06 489.5L317.06 474.38L330.87 474.38L330.87 458.72L344.69 458.72L344.69 460.34L358.5 460.34L358.5 479.87L372.31 479.87L372.31 489.5Z" fill="#FFFFFF" stroke="#000" stroke-width="1.3"/>
<path d="M317.06 489.5L317.06 487.32L330.87 487.32L330.87 485.07L344.69 485.07L344.69 485.3L358.5 485.3L358.5 488.11L372.31 488.11L372.31 489.5Z" fill="#FBF8CC" stroke="#000" stroke-width="1.2"/>
<path d="M317.06 489.5L317.06 487.5L330.87 487.5L330.87 485.44L344.69 485.44L344.69 485.65L358.5 485.65L358.5 488.23L372.31 488.23L372.31 489.5Z" fill="#FFFF00" stroke="#000" stroke-width="1.2"/>
<path d="M317.06 489.5L317.06 487.69L330.87 487.69L330.87 485.81L344.69 485.81L344.69 486L358.5 486L358.5 488.34L372.31 488.34L372.31 489.5Z" fill="#FFCC00" stroke="#000" stroke-width="1.2"/>
<path d="M317.06 489.5L317.06 488.44L330.87 488.44L330.87 487.35L344.69 487.35L344.69 487.46L358.5 487.46L358.5 488.83L372.31 488.83L372.31 489.5Z" fill="#FF9A00" stroke="#000" stroke-width="1.2"/>
<path d="M317.06 489.5L317.06 488.53L330.87 488.53L330.87 487.53L344.69 487.53L344.69 487.63L358.5 487.63L358.5 488.88L372.31 488.88L372.31 489.5Z" fill="#00A000" stroke="#000" stroke-width="1.2"/>
<path d="M317.06 489.5L317.06 488.59L330.87 488.59L330.87 487.65L344.69 487.65L344.69 487.75L358.5 487.75L358.5 488.92L372.31 488.92L372.31 489.5Z" fill="#1A6FFF" stroke="#000" stroke-width="1.2"/>
<path d="M317.06 489.5L317.06 489.27L330.87 489.27L330.87 489.04L344.69 489.04L344.69 489.06L358.5 489.06L358.5 489.36L372.31 489.36L372.31 489.5Z" fill="#660066" stroke="#000" stroke-width="1.2"/>
<circle cx="61.52" cy="362.51" r="2.4"/>
<circle cx="89.15" cy="476.39" r="2.4"/>
<circle cx="102.96" cy="458.03" r="2.4"/>
<circle cx="116.77" cy="454.69" r="2.4"/>
<circle cx="130.58" cy="468.44" r="2.4"/>
<circle cx="158.21" cy="479.34" r="2.4"/>
<circle cx="172.02" cy="460.53" r="2.4"/>
<circle cx="185.84" cy="457.37" r="2.4"/>
<circle cx="199.65" cy="473.4" r="2.4"/>
<circle cx="227.28" cy="398.69" r="2.4"/>
<circle cx="254.9" cy="471.43" r="2.4"/>
<circle cx="268.71" cy="456.55" r="2.4"/>
<circle cx="282.53" cy="459.39" r="2.4"/>
<circle cx="296.34" cy="478.07" r="2.4"/>
<circle cx="323.97" cy="474.47" r="2.4"/>
<circle cx="337.78" cy="458.57" r="2.4"/>
<circle cx="351.59" cy="460.51" r="2.4"/>
<circle cx="365.41" cy="479.82" r="2.4"/>
<line x1="220.4" y1="316.3" x2="220.4" y2="489.5" stroke="#000" stroke-width="1.8"/>
<rect x="40.8" y="316.3" width="345.32" height="173.2" fill="none" stroke="#000" stroke-width="1.2"/>
<path d="M40.8 489.5h11M386.12 489.5h-11M40.8 485.5h5.5M386.12 485.5h-5.5M40.8 480.5h5.5M386.12 480.5h-5.5M40.8 476.5h5.5M386.12 476.5h-5.5M40.8 471.5h11M386.12 471.5h-11M40.8 467.5h5.5M386.12 467.5h-5.5M40.8 462.5h5.5M386.12 462.5h-5.5M40.8 458.5h5.5M386.12 458.5h-5.5M40.8 453.5h11M386.12 453.5h-11M40.8 449.5h5.5M386.12 449.5h-5.5M40.8 444.5h5.5M386.12 444.5h-5.5M40.8 440.5h5.5M386.12 440.5h-5.5M40.8 435.5h11M386.12 435.5h-11M40.8 431.5h5.5M386.12 431.5h-5.5M40.8 426.5h5.5M386.12 426.5h-5.5M40.8 422.5h5.5M386.12 422.5h-5.5M40.8 417.5h11M386.12 417.5h-11M40.8 413.5h5.5M386.12 413.5h-5.5M40.8 408.5h5.5M386.12 408.5h-5.5M40.8 404.5h5.5M386.12 404.5h-5.5M40.8 399.5h11M386.12 399.5h-11M40.8 395.5h5.5M386.12 395.5h-5.5M40.8 390.5h5.5M386.12 390.5h-5.5M40.8 386.5h5.5M386.12 386.5h-5.5M40.8 381.5h11M386.12 381.5h-11M40.8 377.5h5.5M386.12 377.5h-5.5M40.8 372.5h5.5M386.12 372.5h-5.5M40.8 368.5h5.5M386.12 368.5h-5.5M40.8 363.5h11M386.12 363.5h-11M40.8 359.5h5.5M386.12 359.5h-5.5M40.8 354.5h5.5M386.12 354.5h-5.5M40.8 350.5h5.5M386.12 350.5h-5.5M40.8 345.5h11M386.12 345.5h-11M40.8 341.5h5.5M386.12 341.5h-5.5M40.8 336.5h5.5M386.12 336.5h-5.5M40.8 332.5h5.5M386.12 332.5h-5.5M40.8 327.5h11M386.12 327.5h-11M40.8 323.5h5.5M386.12 323.5h-5.5M40.8 318.5h5.5M386.12 318.5h-5.5M54.61 316.3v2.3M68.43 316.3v2.3M82.24 316.3v2.3M96.05 316.3v2.3M109.86 316.3v2.3M123.68 316.3v2.3M137.49 316.3v2.3M151.3 316.3v2.3M165.12 316.3v2.3M178.93 316.3v2.3M192.74 316.3v2.3M206.56 316.3v2.3M220.37 316.3v2.3M234.18 316.3v2.3M248 316.3v2.3M261.81 316.3v2.3M275.62 316.3v2.3M289.43 316.3v2.3M303.25 316.3v2.3M317.06 316.3v2.3M330.87 316.3v2.3M344.69 316.3v2.3M358.5 316.3v2.3M372.31 316.3v2.3" stroke="#000" stroke-width="1" fill="none"/>
<text transform="translate(29.71,494.05) scale(1.120,1)" font-size="10.80">0</text>
<text transform="translate(23.06,476.05) scale(1.120,1)" font-size="10.80">20</text>
<text transform="translate(23.06,458.05) scale(1.120,1)" font-size="10.80">40</text>
<text transform="translate(23.06,440.05) scale(1.120,1)" font-size="10.80">60</text>
<text transform="translate(23.06,422.05) scale(1.120,1)" font-size="10.80">80</text>
<text transform="translate(16.28,404.05) scale(1.120,1)" font-size="10.80">100</text>
<text transform="translate(16.28,386.05) scale(1.120,1)" font-size="10.80">120</text>
<text transform="translate(16.28,368.05) scale(1.120,1)" font-size="10.80">140</text>
<text transform="translate(16.28,350.05) scale(1.120,1)" font-size="10.80">160</text>
<text transform="translate(16.28,332.05) scale(1.120,1)" font-size="10.80">180</text>
<clipPath id="rc300"><rect x="40.8" y="494.7" width="345.32" height="41.2"/></clipPath>
<g clip-path="url(#rc300)">
<path d="M54.61 518.01L57.1 514.03M57.56 518.17L60.15 514.03M60.61 518.17L63.2 514.03M63.66 518.17L66.25 514.03M66.71 518.17L68.43 515.43" stroke="#2a2a2a" stroke-width="0.9" fill="none"/>
<path d="M82.24 517.73L85.32 512.79M84.24 519.41L88.37 512.79M87.29 519.41L91.42 512.79M90.34 519.41L94.47 512.79M93.39 519.41L96.05 515.14" stroke="#2a2a2a" stroke-width="0.9" fill="none"/>
<path d="M96.05 515.14L97.52 512.79M96.44 519.41L100.57 512.79M99.49 519.41L103.62 512.79M102.54 519.41L106.67 512.79M105.59 519.41L109.72 512.79M108.64 519.41L109.86 517.44" stroke="#2a2a2a" stroke-width="0.9" fill="none"/>
<path d="M109.86 517.44L112.77 512.79M111.69 519.41L115.82 512.79M114.74 519.41L118.87 512.79M117.79 519.41L121.92 512.79M120.84 519.41L123.68 514.86" stroke="#2a2a2a" stroke-width="0.9" fill="none"/>
<path d="M123.68 514.86L124.97 512.79M123.89 519.41L128.02 512.79M126.94 519.41L131.07 512.79M129.99 519.41L134.12 512.79M133.04 519.41L137.17 512.79M136.09 519.41L137.49 517.16" stroke="#2a2a2a" stroke-width="0.9" fill="none"/>
<path d="M151.3 514.58L152.6 512.51M151.3 519.46L155.65 512.51M154.21 519.69L158.7 512.51M157.26 519.69L161.75 512.51M160.31 519.69L164.8 512.51M163.36 519.69L165.12 516.88" stroke="#2a2a2a" stroke-width="0.9" fill="none"/>
<path d="M165.12 516.88L167.85 512.51M166.41 519.69L170.9 512.51M169.46 519.69L173.95 512.51M172.51 519.69L177 512.51M175.56 519.69L178.93 514.3M178.61 519.69L178.93 519.18" stroke="#2a2a2a" stroke-width="0.9" fill="none"/>
<path d="M178.93 514.3L180.05 512.51M178.93 519.18L183.1 512.51M181.66 519.69L186.15 512.51M184.71 519.69L189.2 512.51M187.76 519.69L192.25 512.51M190.81 519.69L192.74 516.6" stroke="#2a2a2a" stroke-width="0.9" fill="none"/>
<path d="M192.74 516.6L195.3 512.51M193.86 519.69L198.35 512.51M196.91 519.69L201.4 512.51M199.96 519.69L204.45 512.51M203.01 519.69L206.56 514.02M206.06 519.69L206.56 518.9" stroke="#2a2a2a" stroke-width="0.9" fill="none"/>
<path d="M220.37 516.32L221.8 514.03M222.26 518.17L224.85 514.03M225.31 518.17L227.9 514.03M228.36 518.17L230.95 514.03M231.41 518.17L234 514.03" stroke="#2a2a2a" stroke-width="0.9" fill="none"/>
<path d="M248 516.04L250.02 512.79M248.94 519.41L253.07 512.79M251.99 519.41L256.12 512.79M255.04 519.41L259.17 512.79M258.09 519.41L261.81 513.45M261.14 519.41L261.81 518.34" stroke="#2a2a2a" stroke-width="0.9" fill="none"/>
<path d="M261.81 513.45L262.22 512.79M261.81 518.34L265.27 512.79M264.19 519.41L268.32 512.79M267.24 519.41L271.37 512.79M270.29 519.41L274.42 512.79M273.34 519.41L275.62 515.75" stroke="#2a2a2a" stroke-width="0.9" fill="none"/>
<path d="M275.62 515.75L277.47 512.79M276.39 519.41L280.52 512.79M279.44 519.41L283.57 512.79M282.49 519.41L286.62 512.79M285.54 519.41L289.43 513.17M288.59 519.41L289.43 518.05" stroke="#2a2a2a" stroke-width="0.9" fill="none"/>
<path d="M289.43 513.17L289.67 512.79M289.43 518.05L292.72 512.79M291.64 519.41L295.77 512.79M294.69 519.41L298.82 512.79M297.74 519.41L301.87 512.79M300.79 519.41L303.25 515.47" stroke="#2a2a2a" stroke-width="0.9" fill="none"/>
<path d="M317.06 512.89L317.3 512.51M317.06 517.77L320.35 512.51M318.91 519.69L323.4 512.51M321.96 519.69L326.45 512.51M325.01 519.69L329.5 512.51M328.06 519.69L330.87 515.19" stroke="#2a2a2a" stroke-width="0.9" fill="none"/>
<path d="M330.87 515.19L332.55 512.51M331.11 519.69L335.6 512.51M334.16 519.69L338.65 512.51M337.21 519.69L341.7 512.51M340.26 519.69L344.69 512.61M343.31 519.69L344.69 517.49" stroke="#2a2a2a" stroke-width="0.9" fill="none"/>
<path d="M344.69 517.49L347.8 512.51M346.36 519.69L350.85 512.51M349.41 519.69L353.9 512.51M352.46 519.69L356.95 512.51M355.51 519.69L358.5 514.91" stroke="#2a2a2a" stroke-width="0.9" fill="none"/>
<path d="M358.5 514.91L360 512.51M358.56 519.69L363.05 512.51M361.61 519.69L366.1 512.51M364.66 519.69L369.15 512.51M367.71 519.69L372.2 512.51M370.76 519.69L372.31 517.21" stroke="#2a2a2a" stroke-width="0.9" fill="none"/>
<line x1="40.8" y1="516.1" x2="386.12" y2="516.1" stroke="#1a1a1a" stroke-width="1.05" stroke-dasharray="2.2 2.2" stroke-dashoffset="2.6"/>
<circle cx="61.52" cy="516.1" r="2.4"/>
<line x1="89.15" y1="492.85" x2="89.15" y2="503.2" stroke="#000" stroke-width="1.1"/>
<circle cx="89.15" cy="498.02" r="2.4"/>
<line x1="102.96" y1="517.27" x2="102.96" y2="524.17" stroke="#000" stroke-width="1.1"/>
<circle cx="102.96" cy="520.72" r="2.4"/>
<line x1="116.77" y1="516.65" x2="116.77" y2="523.55" stroke="#000" stroke-width="1.1"/>
<circle cx="116.77" cy="520.1" r="2.4"/>
<line x1="130.58" y1="507.82" x2="130.58" y2="518.17" stroke="#000" stroke-width="1.1"/>
<circle cx="130.58" cy="513" r="2.4"/>
<line x1="158.21" y1="517.41" x2="158.21" y2="527.76" stroke="#000" stroke-width="1.1"/>
<circle cx="158.21" cy="522.59" r="2.4"/>
<line x1="172.02" y1="514.93" x2="172.02" y2="521.83" stroke="#000" stroke-width="1.1"/>
<circle cx="172.02" cy="518.38" r="2.4"/>
<line x1="185.84" y1="506.72" x2="185.84" y2="513.62" stroke="#000" stroke-width="1.1"/>
<circle cx="185.84" cy="510.17" r="2.4"/>
<line x1="199.65" y1="511.2" x2="199.65" y2="521.55" stroke="#000" stroke-width="1.1"/>
<circle cx="199.65" cy="516.38" r="2.4"/>
<circle cx="227.28" cy="516.1" r="2.4"/>
<line x1="254.9" y1="515.13" x2="254.9" y2="525.48" stroke="#000" stroke-width="1.1"/>
<circle cx="254.9" cy="520.31" r="2.4"/>
<line x1="268.71" y1="508.72" x2="268.71" y2="515.62" stroke="#000" stroke-width="1.1"/>
<circle cx="268.71" cy="512.17" r="2.4"/>
<line x1="282.53" y1="511.55" x2="282.53" y2="518.45" stroke="#000" stroke-width="1.1"/>
<circle cx="282.53" cy="515" r="2.4"/>
<line x1="296.34" y1="516.45" x2="296.34" y2="526.79" stroke="#000" stroke-width="1.1"/>
<circle cx="296.34" cy="521.62" r="2.4"/>
<line x1="323.97" y1="515.06" x2="323.97" y2="525.41" stroke="#000" stroke-width="1.1"/>
<circle cx="323.97" cy="520.24" r="2.4"/>
<line x1="337.78" y1="509.2" x2="337.78" y2="516.1" stroke="#000" stroke-width="1.1"/>
<circle cx="337.78" cy="512.65" r="2.4"/>
<line x1="351.59" y1="516.79" x2="351.59" y2="523.69" stroke="#000" stroke-width="1.1"/>
<circle cx="351.59" cy="520.24" r="2.4"/>
<line x1="365.41" y1="506.99" x2="365.41" y2="517.34" stroke="#000" stroke-width="1.1"/>
<circle cx="365.41" cy="512.17" r="2.4"/>
</g>
<rect x="40.8" y="494.7" width="345.32" height="41.2" fill="none" stroke="#000" stroke-width="1.2"/>
<path d="M40.8 533.5h3M386.12 533.5h-3M40.8 529.5h5M386.12 529.5h-5M40.8 526.5h3M386.12 526.5h-3M40.8 523.5h3M386.12 523.5h-3M40.8 519.5h3M386.12 519.5h-3M40.8 516.5h5M386.12 516.5h-5M40.8 512.5h3M386.12 512.5h-3M40.8 509.5h3M386.12 509.5h-3M40.8 505.5h3M386.12 505.5h-3M40.8 502.5h5M386.12 502.5h-5M40.8 498.5h3M386.12 498.5h-3M54.61 494.7v2.3M54.61 535.9v-2.3M68.43 494.7v2.3M68.43 535.9v-2.3M82.24 494.7v2.3M82.24 535.9v-2.3M96.05 494.7v2.3M96.05 535.9v-2.3M109.86 494.7v2.3M109.86 535.9v-2.3M123.68 494.7v2.3M123.68 535.9v-2.3M137.49 494.7v2.3M137.49 535.9v-2.3M151.3 494.7v2.3M151.3 535.9v-2.3M165.12 494.7v2.3M165.12 535.9v-2.3M178.93 494.7v2.3M178.93 535.9v-2.3M192.74 494.7v2.3M192.74 535.9v-2.3M206.56 494.7v2.3M206.56 535.9v-2.3M220.37 494.7v2.3M220.37 535.9v-2.3M234.18 494.7v2.3M234.18 535.9v-2.3M248 494.7v2.3M248 535.9v-2.3M261.81 494.7v2.3M261.81 535.9v-2.3M275.62 494.7v2.3M275.62 535.9v-2.3M289.43 494.7v2.3M289.43 535.9v-2.3M303.25 494.7v2.3M303.25 535.9v-2.3M317.06 494.7v2.3M317.06 535.9v-2.3M330.87 494.7v2.3M330.87 535.9v-2.3M344.69 494.7v2.3M344.69 535.9v-2.3M358.5 494.7v2.3M358.5 535.9v-2.3M372.31 494.7v2.3M372.31 535.9v-2.3" stroke="#000" stroke-width="1" fill="none"/>
<text transform="translate(12.91,506.55) scale(1.130,1)" font-size="10.80">1.02</text>
<text transform="translate(29.88,520.35) scale(1.130,1)" font-size="10.80">1</text>
<text transform="translate(12.91,534.15) scale(1.130,1)" font-size="10.80">0.98</text>
<text transform="translate(63.46,560.5) rotate(-90) scale(1.170,1)" font-size="7.45">[-5, 5]</text>
<text transform="translate(91.08,570.62) rotate(-90) scale(1.170,1)" font-size="7.45">[-5, -0.8]</text>
<text transform="translate(104.9,567.74) rotate(-90) scale(1.170,1)" font-size="7.45">[-0.8, 0]</text>
<text transform="translate(118.71,564.86) rotate(-90) scale(1.170,1)" font-size="7.45">[0, 0.8]</text>
<text transform="translate(132.52,564.86) rotate(-90) scale(1.170,1)" font-size="7.45">[0.8, 5]</text>
<text transform="translate(160.15,570.62) rotate(-90) scale(1.170,1)" font-size="7.45">[-5, -0.8]</text>
<text transform="translate(173.96,567.74) rotate(-90) scale(1.170,1)" font-size="7.45">[-0.8, 0]</text>
<text transform="translate(187.77,564.86) rotate(-90) scale(1.170,1)" font-size="7.45">[0, 0.8]</text>
<text transform="translate(201.59,564.86) rotate(-90) scale(1.170,1)" font-size="7.45">[0.8, 5]</text>
<text transform="translate(229.21,560.5) rotate(-90) scale(1.170,1)" font-size="7.45">[-5, 5]</text>
<text transform="translate(256.84,570.62) rotate(-90) scale(1.170,1)" font-size="7.45">[-5, -0.8]</text>
<text transform="translate(270.65,567.74) rotate(-90) scale(1.170,1)" font-size="7.45">[-0.8, 0]</text>
<text transform="translate(284.46,564.86) rotate(-90) scale(1.170,1)" font-size="7.45">[0, 0.8]</text>
<text transform="translate(298.28,564.86) rotate(-90) scale(1.170,1)" font-size="7.45">[0.8, 5]</text>
<text transform="translate(325.9,570.62) rotate(-90) scale(1.170,1)" font-size="7.45">[-5, -0.8]</text>
<text transform="translate(339.72,567.74) rotate(-90) scale(1.170,1)" font-size="7.45">[-0.8, 0]</text>
<text transform="translate(353.53,564.86) rotate(-90) scale(1.170,1)" font-size="7.45">[0, 0.8]</text>
<text transform="translate(367.34,564.86) rotate(-90) scale(1.170,1)" font-size="7.45">[0.8, 5]</text>
<text transform="translate(10.48,353.61) rotate(-90) scale(1.067,1)" font-size="11.86">Events</text>
<text transform="translate(9.23,535.11) rotate(-90) scale(1.021,1)" font-size="7.50">Data / Pred.</text>
<text transform="translate(362.83,576.7) scale(1.116,1)" font-size="11.16">Δ</text>
<text transform="translate(374.25,576.82) scale(1.252,1)" font-size="10.85">lyl</text>
<path d="M40.9 308.3L46.6 313.9M40.9 313.9L46.6 308.3" stroke="#000" stroke-width="0.95" fill="none"/>
<text transform="translate(47.48,314) scale(1.184,1)" font-size="10.28">10</text>
<text transform="translate(60.82,308.42) scale(1.182,1)" font-size="8.10">3</text>
<text transform="translate(53.82,328.88) scale(1.016,1)" font-size="12.25" font-weight="bold" style="stroke-width:0.4px" font-style="italic">ATLAS</text>
<path d="M54.9 336.3L56.6 342.9" fill="none" stroke="#000" stroke-width="1.5"/>
<path d="M56.6 342.9L58.4 332.5H65.6" fill="none" stroke="#000" stroke-width="0.85"/>
<text transform="translate(59.79,342.39) scale(1.198,1)" font-size="11.45">s</text>
<text transform="translate(65.91,342.39) scale(1.267,1)" font-size="9.38">=</text>
<text transform="translate(76.68,342.51) scale(1.140,1)" font-size="11.45">8 TeV, 20.3</text>
<text transform="translate(145.37,342.6) scale(1.019,1)" font-size="12.33">fb</text>
<path d="M156.3 334.4H157.9" stroke="#000" stroke-width="0.8"/>
<text transform="translate(158.29,336.9) scale(0.720,1)" font-size="7.10">1</text>
<text transform="translate(52.26,352.69) scale(1.117,1)" font-size="7.66">0 b-tags</text>
<text transform="translate(223.07,377.64) scale(1.123,1)" font-size="7.45">0 b-tags</text>
<text transform="translate(98.43,436.08) scale(1.154,1)" font-size="7.23">1 b-tag</text>
<text transform="translate(257.03,436.18) scale(1.154,1)" font-size="7.23">1 b-tag</text>
<text transform="translate(160.54,436.08) scale(1.183,1)" font-size="7.23">≥ 2 b-tags</text>
<text transform="translate(323.05,436.18) scale(1.174,1)" font-size="7.23">≥ 2 b-tags</text>
<text transform="translate(156.37,356.1) scale(1.059,1)" font-size="10.00">Q</text>
<text transform="translate(165.3,358.87) scale(1.412,1)" font-size="7.08">l</text>
<text transform="translate(169.31,356.88) scale(1.208,1)" font-size="9.80">&gt;</text>
<text transform="translate(179.47,356) scale(1.078,1)" font-size="9.86">0</text>
<text transform="translate(239.98,356.1) scale(1.044,1)" font-size="10.00">Q</text>
<text transform="translate(248.2,358.87) scale(1.412,1)" font-size="7.08">l</text>
<text transform="translate(253.08,356.85) scale(1.107,1)" font-size="9.40">&lt;</text>
<text transform="translate(262.43,356) scale(1.183,1)" font-size="9.86">0</text>
<text transform="translate(284.76,332.26) scale(1.098,1)" font-size="8.30">l+jets</text>
<line x1="287" y1="339.5" x2="308.7" y2="339.5" stroke="#000" stroke-width="1"/>
<circle cx="297.8" cy="339.5" r="2.2"/>
<text transform="translate(312.59,341.4) scale(1.013,1)" font-size="8.80">Data</text>
<rect x="287.1" y="346.3" width="21.4" height="5.9" fill="#FFFFFF" stroke="#000" stroke-width="1.1"/>
<text transform="translate(313.14,350.5) scale(0.922,1)" font-size="8.80">tt</text>
<path d="M315.4 343.2H318.0" stroke="#000" stroke-width="0.7"/>
<rect x="287.1" y="355.4" width="21.4" height="5.9" fill="#FBF8CC" stroke="#000" stroke-width="1.1"/>
<text transform="translate(313.21,359.6) scale(1.002,1)" font-size="8.80">W+light jets</text>
<rect x="287.1" y="364.5" width="21.4" height="5.9" fill="#FFFF00" stroke="#000" stroke-width="1.1"/>
<text transform="translate(313.21,368.7) scale(1.006,1)" font-size="8.80">Wc±jets</text>
<rect x="287.1" y="373.6" width="21.4" height="5.9" fill="#FFCC00" stroke="#000" stroke-width="1.1"/>
<text transform="translate(313.21,377.8) scale(0.994,1)" font-size="8.80">Wbb/cc+jets</text>
<path d="M326.6 370.9H330.6M337.4 370.9H341.5" stroke="#000" stroke-width="0.7"/>
<rect x="287.1" y="382.7" width="21.4" height="5.9" fill="#FF9A00" stroke="#000" stroke-width="1.1"/>
<text transform="translate(313.03,386.9) scale(1.005,1)" font-size="8.80">Z+jets</text>
<rect x="287.1" y="391.8" width="21.4" height="5.9" fill="#00A000" stroke="#000" stroke-width="1.1"/>
<text transform="translate(312.58,396) scale(1.020,1)" font-size="8.80">Diboson</text>
<rect x="287.1" y="400.9" width="21.4" height="5.9" fill="#1A6FFF" stroke="#000" stroke-width="1.1"/>
<text transform="translate(312.86,405.1) scale(1.006,1)" font-size="8.80">Single top</text>
<rect x="287.1" y="410" width="21.4" height="5.9" fill="#660066" stroke="#000" stroke-width="1.1"/>
<text transform="translate(312.58,414.2) scale(1.018,1)" font-size="8.80">Multijet</text>
<path d="M287 423.61L289.57 419.5M289.06 424.8L292.37 419.5M291.86 424.8L295.17 419.5M294.66 424.8L297.97 419.5M297.46 424.8L300.77 419.5M300.26 424.8L303.57 419.5M303.06 424.8L306.37 419.5M305.86 424.8L308.6 420.41" stroke="#2a2a2a" stroke-width="0.9" fill="none"/>
<text transform="translate(313.12,423.3) scale(1.041,1)" font-size="8.80">Tot. Unc.</text>
</svg></body></html>
